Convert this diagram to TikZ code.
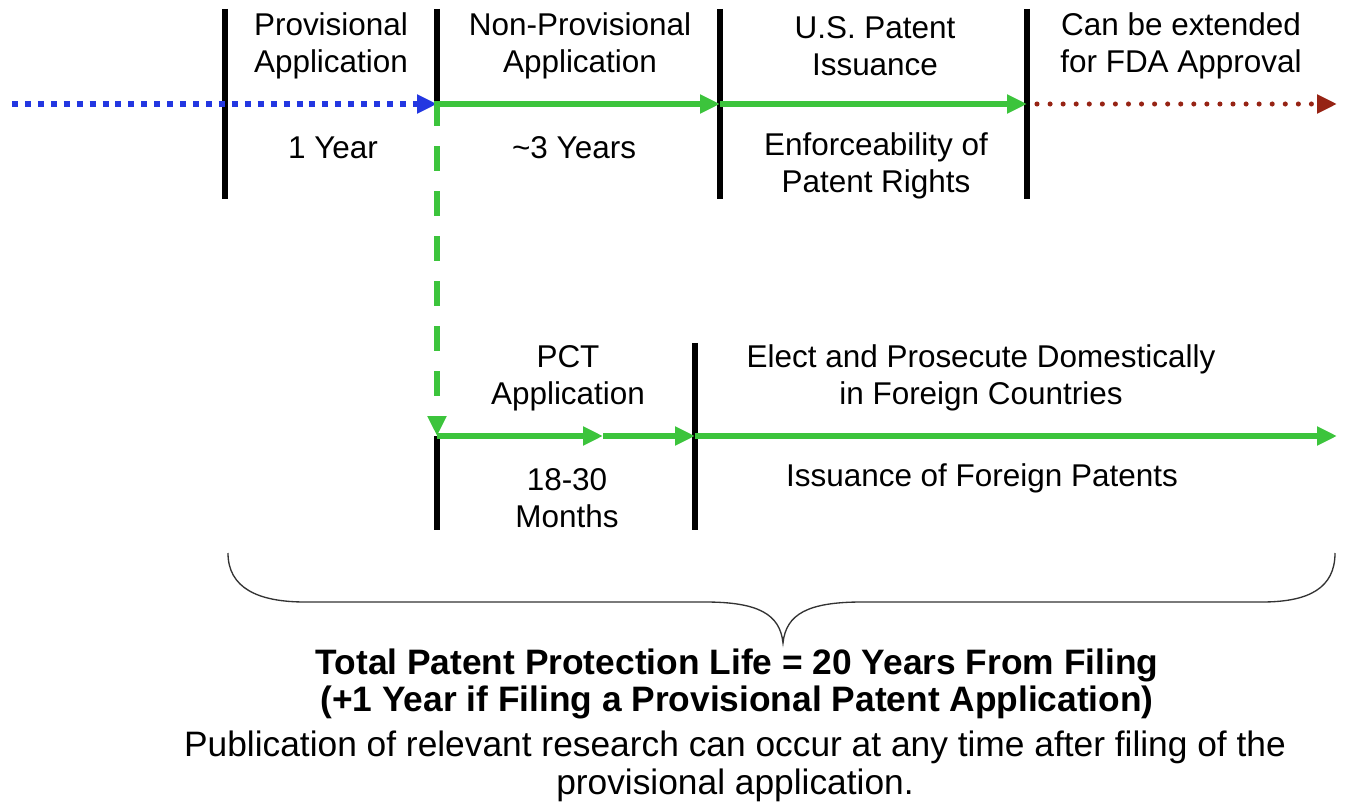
\documentclass[tikz,border=0pt]{standalone}
\usepackage{fontspec}
\setmainfont{Liberation Sans}
\usepackage{tikz}
\usetikzlibrary{arrows.meta}

\definecolor{tlgreen}{RGB}{60,196,60}
\definecolor{tlblue}{RGB}{35,55,225}
\definecolor{tlred}{RGB}{150,35,20}

\begin{document}
\begin{tikzpicture}[x=0.75pt,y=0.75pt,yscale=-1,xscale=1,
  lbl/.style={align=center,inner sep=0.75pt,font=\fontsize{23.6}{27.5}\selectfont},
  bar/.style={line width=4pt,black},
  tip/.style={-{Triangle[length=15pt,width=13.5pt]}},
  grn/.style={tip,draw=tlgreen,line width=4.2pt}
]
\useasboundingbox (0,0) rectangle (1346,809);

%Timeline points
\coordinate (s0) at (12,104);
\coordinate (p1) at (437,104);
\coordinate (p2) at (720,104);
\coordinate (p3) at (1027,104);
\coordinate (r0) at (1037,104);
\coordinate (r1) at (1337,104);
\coordinate (q0) at (437,436);
\coordinate (q1) at (603,436);
\coordinate (q2) at (695,436);
\coordinate (q3) at (1337,436);

%Shape: Bars
\draw [bar] (225,9) -- (225,199);
\draw [bar] (437,9) -- (p1);
\draw [bar] (720,9) -- (720,199);
\draw [bar] (1027,9) -- (1027,199);
\draw [bar] (q0) -- (437,530);
\draw [bar] (695,343) -- (695,530);

%Shape: Arrows top row
\draw [tip,draw=tlblue,line width=4.5pt,dash pattern=on 4.5pt off 5.2pt] (s0) -- (p1);
\draw [grn] (p1) -- (p2);
\draw [grn] (p2) -- (p3);
\draw [tip,draw=tlred,line width=3.8pt,line cap=round,dash pattern=on 0pt off 9.8pt] (r0) -- (r1);
%Shape: PCT branch
\draw [grn,line width=4.5pt,dash pattern=on 18.75pt off 15pt] ([yshift=-2pt]p1) -- (q0);
\draw [grn] (q0) -- (q1);
\draw [grn] (q1) -- (q2);
\draw [grn] (q2) -- (q3);

% Text Node
\node [lbl] (prov) at (331,46) {Provisional\\Application};
% Text Node
\node [lbl] (nonprov) at (580,46) {Non-Provisional\\Application};
% Text Node
\node [lbl] (issue) at (875,46) {U.S. Patent\\Issuance};
% Text Node
\node [lbl] (fda) at (1181,46) {Can be extended\\for FDA Approval};
% Text Node
\node [lbl] (oneyr) at (333,148) {1 Year};
% Text Node
\node [lbl] (threeyr) at (574,148) {\textasciitilde3 Years};
% Text Node
\node [lbl] (enforce) at (876,166) {Enforceability of\\Patent Rights};
% Text Node
\node [lbl] (pct) at (568,378) {PCT\\Application};
% Text Node
\node [lbl] (months) at (567,498) {18-30\\Months};
% Text Node
\node [lbl] (elect) at (981,378) {Elect and Prosecute Domestically\\in Foreign Countries};
% Text Node
\node [lbl] (foreign) at (982,478) {Issuance of Foreign Patents};

%Shape: Brace
\draw [line width=1pt,black!80] (228,553) .. controls (228,588) and (258,602) .. (305,602) -- (705,602) .. controls (758,602) and (780,614) .. (783,643) .. controls (786,614) and (808,602) .. (862,602) -- (1262,602) .. controls (1309,602) and (1335,588) .. (1335,553);

% Text Node
\node [lbl,font=\fontsize{26.5}{28}\selectfont\bfseries] (total) at (737,684) {Total Patent Protection Life = 20 Years From Filing\\(+1 Year if Filing a Provisional Patent Application)};
% Text Node
\node [lbl,font=\fontsize{26.5}{28.5}\selectfont] (publ) at (735,766) {Publication of relevant research can occur at any time after filing of the\\provisional application.};

\end{tikzpicture}
\end{document}
